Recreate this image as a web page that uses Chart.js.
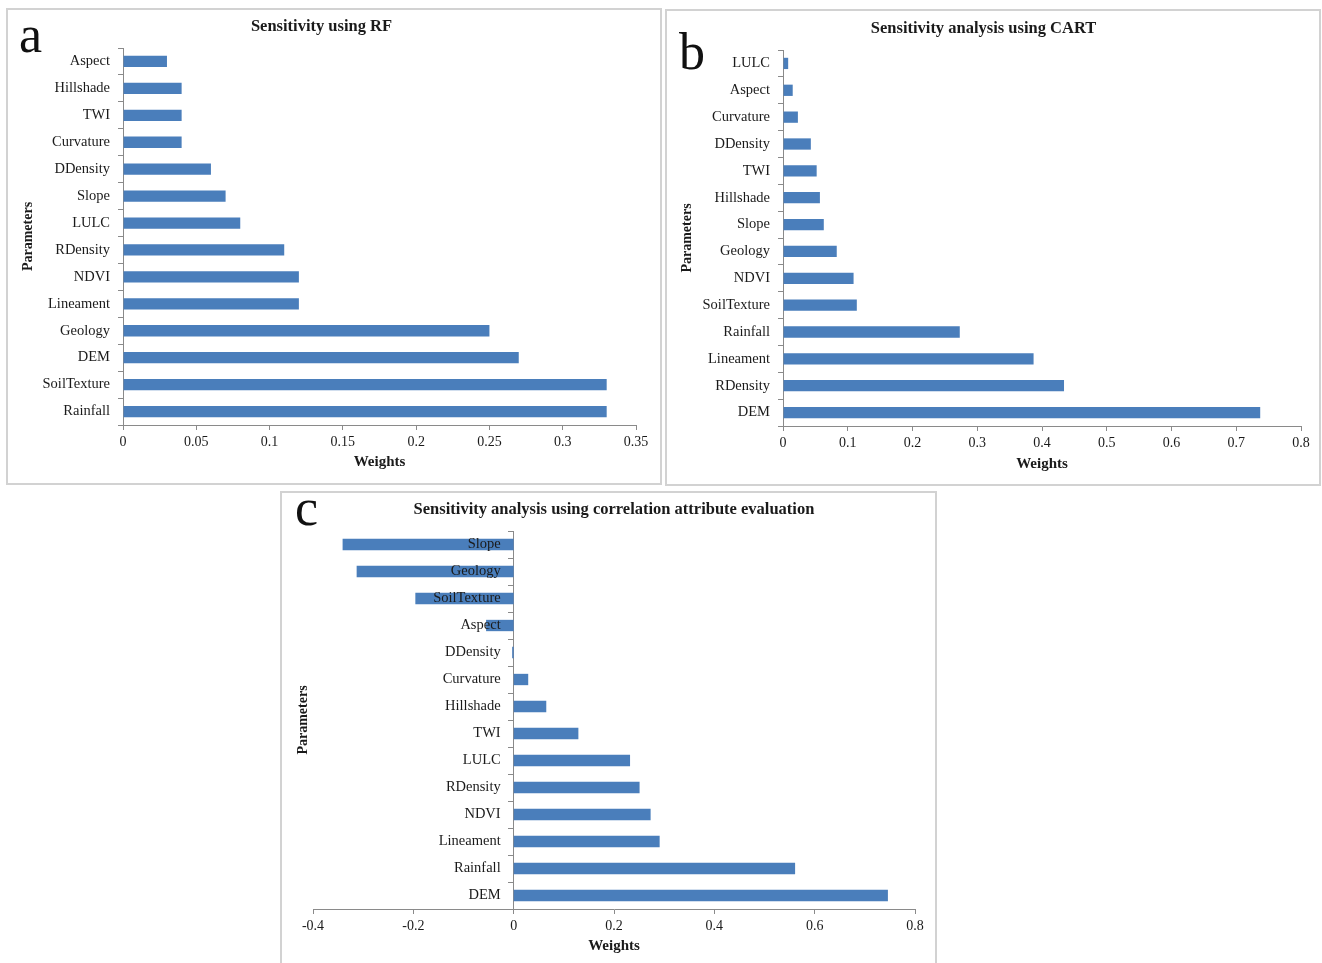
<!DOCTYPE html>
<html>
<head>
<meta charset="utf-8">
<script src="https://cdn.jsdelivr.net/npm/chart.js@4.4.1/dist/chart.umd.min.js"></script>
<style>
  html, body { margin: 0; padding: 0; background: #fff; }
  body { width: 1322px; height: 963px; position: relative; overflow: hidden; }
  .frame { position: absolute; box-sizing: border-box; border: 2px solid #d2d2d2; }
  .box { position: absolute; }
  .tag { position: absolute; font-family: 'Liberation Serif', 'DejaVu Serif', serif;
         font-size: 52px; line-height: 1; color: #111; }
</style>
</head>
<body>
<div class="frame" style="left:6px;top:8px;width:656px;height:477px"></div>
<div class="frame" style="left:665px;top:9px;width:656px;height:477px"></div>
<div class="frame" style="left:280px;top:491px;width:657px;height:490px"></div>

<div class="box" style="left:7px;top:9px;width:654px;height:475px"><canvas id="chartRF"></canvas></div>
<div class="box" style="left:666px;top:10px;width:654px;height:475px"><canvas id="chartCART"></canvas></div>
<div class="box" style="left:281px;top:492px;width:655px;height:471px"><canvas id="chartCAE"></canvas></div>

<div class="tag" style="left:19px;top:9px">a</div>
<div class="tag" style="left:679px;top:26px">b</div>
<div class="tag" style="left:295px;top:482px">c</div>

<script>
/* ─── Data ───────────────────────────────────────────────── */
const rfParams   = ['Aspect', 'Hillshade', 'TWI', 'Curvature', 'DDensity', 'Slope', 'LULC',
                    'RDensity', 'NDVI', 'Lineament', 'Geology', 'DEM', 'SoilTexture', 'Rainfall'];
const rfWeights  = [0.03, 0.04, 0.04, 0.04, 0.06, 0.07, 0.08, 0.11, 0.12, 0.12, 0.25, 0.27, 0.33, 0.33];
const rfAxis     = [0, 0.35, 0.05];   // min, max, step

const cartParams  = ['LULC', 'Aspect', 'Curvature', 'DDensity', 'TWI', 'Hillshade', 'Slope',
                     'Geology', 'NDVI', 'SoilTexture', 'Rainfall', 'Lineament', 'RDensity', 'DEM'];
const cartWeights = [0.008, 0.015, 0.023, 0.043, 0.052, 0.057, 0.063, 0.083, 0.109, 0.114,
                     0.273, 0.387, 0.434, 0.737];
const cartAxis    = [0, 0.8, 0.1];

const caeParams  = ['Slope', 'Geology', 'SoilTexture', 'Aspect', 'DDensity', 'Curvature', 'Hillshade',
                    'TWI', 'LULC', 'RDensity', 'NDVI', 'Lineament', 'Rainfall', 'DEM'];
const caeWeights = [-0.341, -0.313, -0.196, -0.055, -0.003, 0.029, 0.065, 0.129, 0.232, 0.251,
                    0.273, 0.291, 0.561, 0.746];
const caeAxis    = [-0.4, 0.8, 0.2];

/* ─── Style ──────────────────────────────────────────────── */
const SERIF = "'Liberation Serif', 'DejaVu Serif', serif";
const INK   = '#1a1a1a';
const AXIS  = '#8a8a8a';
const BAR   = '#4a7ebb';

Chart.defaults.font.family = SERIF;
Chart.defaults.color = INK;

// Excel-like tick text: 0, 0.1, 0.05, -0.4
const plainNumber = v => String(Number(v.toFixed(2)));

/* ─── Category labels drawn at the zero line (panel c) ──── */
const zeroLabels = {
  id: 'zeroLabels',
  afterDatasetsDraw(chart) {
    const { ctx, chartArea, scales: { x, y } } = chart;
    const x0 = x.getPixelForValue(0);
    ctx.save();
    ctx.fillStyle = INK;
    ctx.font = `14.5px ${SERIF}`;
    ctx.textAlign = 'right';
    ctx.textBaseline = 'middle';
    y.getLabels().forEach((lab, i) => ctx.fillText(lab, x0 - 13, y.getPixelForTick(i)));
    ctx.font = `bold 14px ${SERIF}`;
    ctx.textAlign = 'center';
    ctx.translate(22, (chartArea.top + chartArea.bottom) / 2);
    ctx.rotate(-Math.PI / 2);
    ctx.fillText('Parameters', 0, 0);
    ctx.restore();
  }
};

/* ─── Panel builder ──────────────────────────────────────── */
function makePanel(id, labels, values, range, o) {
  const yScale = {
    position: o.atZero ? { x: 0 } : 'left',
    ticks: { display: !o.atZero, padding: 8, autoSkip: false, color: INK, font: { size: 14.5 } },
    grid: { drawOnChartArea: false, tickLength: 5, color: AXIS, offset: true },
    border: { color: AXIS },
    title: {
      display: !o.atZero, text: 'Parameters', color: INK,
      font: { size: 14, weight: 'bold' }, padding: { top: 13, bottom: 0 }
    },
    afterFit: s => { if (o.yWidth) s.width = o.yWidth; }
  };
  return new Chart(document.getElementById(id), {
    type: 'bar',
    data: {
      labels: labels,
      datasets: [{
        data: values,
        backgroundColor: BAR,
        borderWidth: 0,
        barPercentage: 0.42,
        categoryPercentage: 1
      }]
    },
    options: {
      indexAxis: 'y',
      responsive: true,
      maintainAspectRatio: false,
      animation: false,
      layout: { padding: { top: 0, bottom: 0, left: o.padLeft, right: o.padRight } },
      plugins: {
        legend: { display: false },
        tooltip: { enabled: false },
        title: {
          display: true, text: o.title, color: INK,
          font: { size: 16.5, weight: 'bold' },
          padding: { top: o.titleTop, bottom: o.titleBottom }
        }
      },
      scales: {
        x: {
          min: range[0], max: range[1],
          ticks: { stepSize: range[2], padding: 4, color: INK, font: { size: 14 }, callback: plainNumber },
          grid: { drawOnChartArea: false, tickLength: 5, color: AXIS },
          border: { color: AXIS },
          title: {
            display: true, text: 'Weights', color: INK,
            font: { size: 15, weight: 'bold' }, padding: { top: 0, bottom: o.weightsPad }
          },
          afterFit: s => { s.height = o.xHeight; }
        },
        y: yScale
      }
    },
    plugins: o.atZero ? [zeroLabels] : []
  });
}

/* ─── Init ───────────────────────────────────────────────── */
makePanel('chartRF', rfParams, rfWeights, rfAxis, {
  title: 'Sensitivity using RF', titleTop: 8, titleBottom: 11.2,
  padLeft: 0, padRight: 25, yWidth: 116, xHeight: 59, weightsPad: 13
});
makePanel('chartCART', cartParams, cartWeights, cartAxis, {
  title: 'Sensitivity analysis using CART', titleTop: 9, titleBottom: 11.2,
  padLeft: 0, padRight: 19, yWidth: 117, xHeight: 59, weightsPad: 12
});
makePanel('chartCAE', caeParams, caeWeights, caeAxis, {
  title: 'Sensitivity analysis using correlation attribute evaluation', titleTop: 8, titleBottom: 11.2,
  padLeft: 32, padRight: 21, xHeight: 54, weightsPad: 8, atZero: true
});
</script>
</body>
</html>
